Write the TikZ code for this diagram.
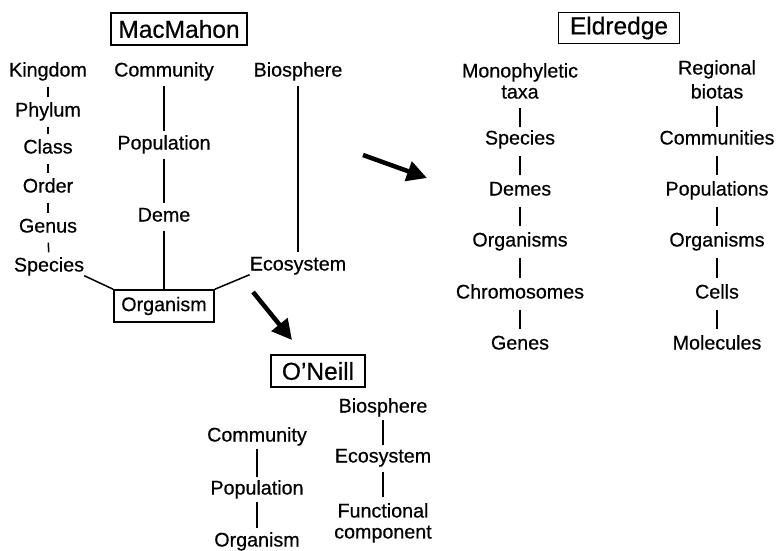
\documentclass[tikz,border=0pt]{standalone}
\usepackage{fontspec}
\setmainfont[FakeBold=0.5]{Liberation Sans}
\usetikzlibrary{arrows.meta}
\begin{document}
\begin{tikzpicture}[x=1pt,y=-1pt,
  lbl/.style={inner sep=0pt, font=\fontsize{19.7}{22}\selectfont, text height=13pt, text depth=4pt},
  mlbl/.style={inner sep=0pt, anchor=north, align=center, font=\fontsize{19.7}{21}\selectfont},
  title/.style={draw, line width=1.5pt, inner sep=0pt, font=\fontsize{24.5}{28}\selectfont},
  link/.style={line width=1.5pt},
  bigarrow/.style={line width=4.5pt, -{Triangle[length=20pt,width=20pt]}}
]
\useasboundingbox (0,0) rectangle (778,550);

% ---- MacMahon ----
\node[title, minimum width=136pt, minimum height=32pt] (mac) at (179,29) {MacMahon};
\node[lbl] (kingdom) at (48,72) {Kingdom};
\node[lbl] (phylum) at (48,112) {Phylum};
\node[lbl] (class) at (48,149) {Class};
\node[lbl] (order) at (48,188) {Order};
\node[lbl] (genus) at (48,228) {Genus};
\node[lbl] (species) at (49,267) {Species};
\node[lbl] (community) at (164,72) {Community};
\node[lbl] (population) at (164,145) {Population};
\node[lbl] (deme) at (164,217) {Deme};
\node[lbl] (biosphere) at (298,72) {Biosphere};
\node[lbl] (ecosystem) at (298,266) {Ecosystem};
\node[draw, line width=1.5pt, inner sep=0pt, minimum width=100pt, minimum height=32pt,
      font=\fontsize{19.7}{22}\selectfont] (organism) at (164,306) {Organism};

\foreach \a/\b in {kingdom/phylum, phylum/class, class/order, order/genus, genus/species}
  \draw[link, shorten <=6pt, shorten >=6pt] (\a) -- (\b);
\draw[link, shorten <=5pt, shorten >=5pt] (community) -- (population);
\draw[link, shorten <=5pt, shorten >=5pt] (population) -- (deme);
\draw[link, shorten <=5pt] (deme) -- (organism);
\draw[link, shorten <=5pt, shorten >=5pt] (biosphere) -- (ecosystem);
\draw[link] (species.south east) -- (organism.north west);
\draw[link] (ecosystem.south west) -- (organism.north east);

% ---- arrows ----
\coordinate (a1s) at (253,292);
\coordinate (a1e) at (292,340);
\coordinate (a2s) at (363,155);
\coordinate (a2e) at (427,178);
\draw[bigarrow] (a1s) -- (a1e);
\draw[bigarrow] (a2s) -- (a2e);

% ---- Eldredge ----
\node[title, minimum width=121pt, minimum height=31pt] (eld) at (619,28) {Eldredge};
\node[mlbl] (mono) at (520,63) {Monophyletic\\taxa};
\node[lbl] (especies) at (520,140) {Species};
\node[lbl] (demes) at (520,191) {Demes};
\node[lbl] (eorg1) at (520,242) {Organisms};
\node[lbl] (chromo) at (520,294) {Chromosomes};
\node[lbl] (genes) at (520,345) {Genes};
\node[mlbl, font=\fontsize{19.7}{24}\selectfont] (regional) at (717,60) {Regional\\biotas};
\node[lbl] (communities) at (717,140) {Communities};
\node[lbl] (populations) at (717,191) {Populations};
\node[lbl] (eorg2) at (717,242) {Organisms};
\node[lbl] (cells) at (717,294) {Cells};
\node[lbl] (molecules) at (717,345) {Molecules};

\draw[link, shorten <=9pt, shorten >=4.5pt] (mono) -- (especies);
\draw[link, shorten <=7pt, shorten >=4.5pt] (regional) -- (communities);
\foreach \a/\b in {especies/demes, demes/eorg1, eorg1/chromo, chromo/genes,
                   communities/populations, populations/eorg2, eorg2/cells, cells/molecules}
  \draw[link, shorten <=7pt, shorten >=7pt] (\a) -- (\b);

% ---- O'Neill ----
\node[title, minimum width=94pt, minimum height=32pt] (oneill) at (318,371) {O'Neill};
\node[lbl] (ocomm) at (257,437) {Community};
\node[lbl] (opop) at (257,490) {Population};
\node[lbl] (oorg) at (257,542) {Organism};
\node[lbl] (obio) at (383,408) {Biosphere};
\node[lbl] (oeco) at (383,458) {Ecosystem};
\node[mlbl] (ofunc) at (383,503) {Functional\\component};

\draw[link, shorten <=3pt, shorten >=4.5pt] (ocomm) -- (opop);
\draw[link, shorten <=3.5pt, shorten >=5.5pt] (opop) -- (oorg);
\draw[link, shorten <=3.5pt, shorten >=4.5pt] (obio) -- (oeco);
\draw[link, shorten <=5.5pt, shorten >=6pt] (oeco) -- (ofunc);
\end{tikzpicture}
\end{document}
